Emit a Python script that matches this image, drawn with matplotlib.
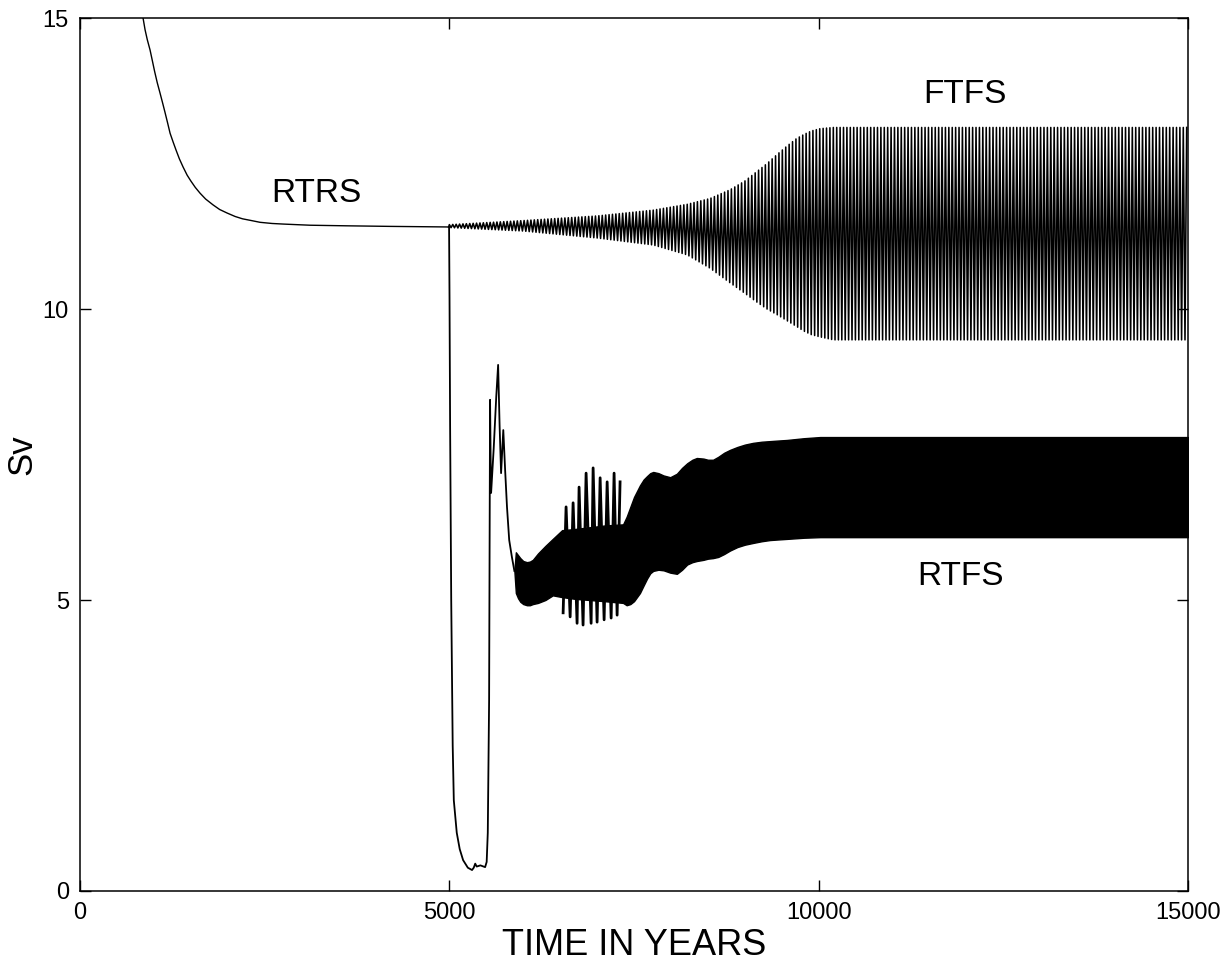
import numpy as np
import matplotlib.pyplot as plt

plt.rcParams['font.family'] = ['Liberation Sans', 'DejaVu Sans']

# spin-up towards the RTRS steady state
rtrs_t = [780, 853, 880, 910, 948, 980, 1010, 1045, 1083, 1120, 1150, 1185, 1219, 1260,
          1300, 1345, 1395, 1450, 1500, 1560, 1625, 1700, 1800, 1890, 1990, 2100, 2200,
          2320, 2437, 2600, 2750, 2930, 3114, 3600, 4200, 4990]
rtrs_sv = [16.3, 15.0, 14.8, 14.63, 14.45, 14.26, 14.08, 13.89, 13.71, 13.53, 13.38,
           13.2, 13.02, 12.87, 12.73, 12.58, 12.44, 12.3, 12.2, 12.09, 11.99, 11.89,
           11.79, 11.71, 11.65, 11.59, 11.55, 11.52, 11.49, 11.47, 11.46, 11.45, 11.44,
           11.43, 11.42, 11.41]

# collapse after the perturbation at year 5000 and recovery into RTFS
drop_t = [4996, 5002, 5010, 5025, 5045, 5060, 5100, 5140, 5186, 5250, 5307, 5330, 5350,
          5370, 5420, 5484, 5505, 5520, 5538, 5551, 5558, 5565, 5600, 5635, 5660, 5680,
          5700, 5730, 5755, 5780, 5810, 5845, 5880]
drop_sv = [11.41, 10.2, 8.0, 5.0, 2.5, 1.56, 1.0, 0.72, 0.53, 0.40, 0.36, 0.40, 0.47,
           0.42, 0.44, 0.41, 0.5, 1.0, 3.28, 8.44, 7.5, 6.84, 7.6, 8.5, 9.04, 8.0,
           7.18, 7.92, 7.23, 6.6, 6.03, 5.75, 5.5]

# RTFS band (envelope of the fast oscillation)
band_t = [5880, 5900, 5930, 5960, 6000, 6050, 6090, 6130, 6200, 6300, 6400, 6526, 6700,
          6900, 7100, 7352, 7400, 7450, 7500, 7580, 7630, 7677, 7720, 7760, 7830, 7900,
          7990, 8080, 8150, 8220, 8290, 8350, 8440, 8500, 8570, 8640, 8720, 8800, 8900,
          9000, 9110, 9230, 9340, 9450, 9570, 9800, 10020, 15000]
band_hi = [5.5, 5.82, 5.77, 5.72, 5.67, 5.65, 5.66, 5.69, 5.8, 5.93, 6.05, 6.2, 6.22,
           6.25, 6.28, 6.3, 6.43, 6.6, 6.77, 6.97, 7.07, 7.13, 7.18, 7.2, 7.18, 7.14,
           7.11, 7.17, 7.27, 7.35, 7.41, 7.44, 7.43, 7.41, 7.41, 7.46, 7.53, 7.58, 7.63,
           7.67, 7.70, 7.72, 7.73, 7.74, 7.75, 7.78, 7.80, 7.80]
band_lo = [5.5, 5.12, 5.03, 4.97, 4.93, 4.91, 4.91, 4.93, 4.95, 5.0, 5.08, 5.05, 5.02,
           5.0, 4.98, 4.95, 4.91, 4.93, 4.98, 5.12, 5.25, 5.37, 5.46, 5.5, 5.52, 5.51,
           5.47, 5.45, 5.52, 5.61, 5.65, 5.67, 5.69, 5.71, 5.72, 5.74, 5.79, 5.85, 5.91,
           5.95, 5.98, 6.01, 6.03, 6.04, 6.05, 6.07, 6.08, 6.08]

# large spikes between 6500 and 7350 years
spike_t = [6540, 6580, 6635, 6675, 6729, 6756, 6810, 6851, 6919, 6946, 7000, 7041,
           7095, 7136, 7190, 7230, 7271, 7311]
spike_sv = [4.78, 6.6, 4.71, 6.67, 4.6, 6.94, 4.57, 7.18, 4.6, 7.27, 4.62, 7.10,
            4.66, 7.03, 4.69, 7.18, 4.74, 7.03]

# FTFS oscillation envelope and period
ftfs_t = [5000, 6000, 7000, 7760, 8220, 8530, 8800, 9000, 9150, 9300, 9440, 9570,
          9700, 9800, 9900, 10020, 10200, 15000]
ftfs_hi = [11.45, 11.52, 11.6, 11.7, 11.8, 11.9, 12.05, 12.2, 12.35, 12.5, 12.66,
           12.8, 12.93, 13.0, 13.06, 13.1, 13.12, 13.12]
ftfs_lo = [11.40, 11.34, 11.22, 11.10, 10.93, 10.7, 10.45, 10.27, 10.13, 10.0, 9.9,
           9.8, 9.7, 9.62, 9.56, 9.52, 9.47, 9.47]
ftfs_period = 46

labels = ['RTRS', 'FTFS', 'RTFS']
label_t = [3195, 11980, 11915]
label_sv = [11.98, 13.68, 5.41]


def zigzag(env_t, env_hi, env_lo, period):
    # alternate between upper and lower envelope every half period
    half = period / 2
    n = int((env_t[-1] - env_t[0]) / half)
    tt = env_t[0] + np.arange(n + 1) * half
    hi = np.interp(tt, env_t, env_hi)
    lo = np.interp(tt, env_t, env_lo)
    yy = np.where(np.arange(n + 1) % 2 == 0, hi, lo)
    return tt, yy


fig = plt.figure(figsize=(12.24, 9.65), dpi=100)
ax = fig.add_axes([0.0654, 0.0767, 0.9052, 0.9046])

ax.plot(rtrs_t, rtrs_sv, color='black', lw=1.0)
ax.plot(drop_t, drop_sv, color='black', lw=1.3)
ax.fill_between(band_t, band_lo, band_hi, color='black', lw=1.0)
ax.plot(spike_t, spike_sv, color='black', lw=2.0)

zt, zy = zigzag(ftfs_t, ftfs_hi, ftfs_lo, ftfs_period)
ax.plot(np.r_[rtrs_t[-1], zt], np.r_[rtrs_sv[-1], zy], color='black', lw=1.15)

for name, t, sv in zip(labels, label_t, label_sv):
    ax.text(t, sv, name, fontsize=24, ha='center', va='center')

ax.set_xlim(0, 15000)
ax.set_ylim(0, 15)
ax.set_xticks([0, 5000, 10000, 15000])
ax.set_yticks([0, 5, 10, 15])
ax.tick_params(direction='in', length=8, width=1.0, labelsize=17, pad=8,
               top=True, right=True)
for s in ax.spines.values():
    s.set_linewidth(1.1)
ax.set_xlabel('TIME IN YEARS', fontsize=26, labelpad=3)
ax.set_ylabel('Sv', fontsize=25)
ax.yaxis.set_label_coords(-0.038, 0.5)

fig.savefig('out.png', dpi=100)
